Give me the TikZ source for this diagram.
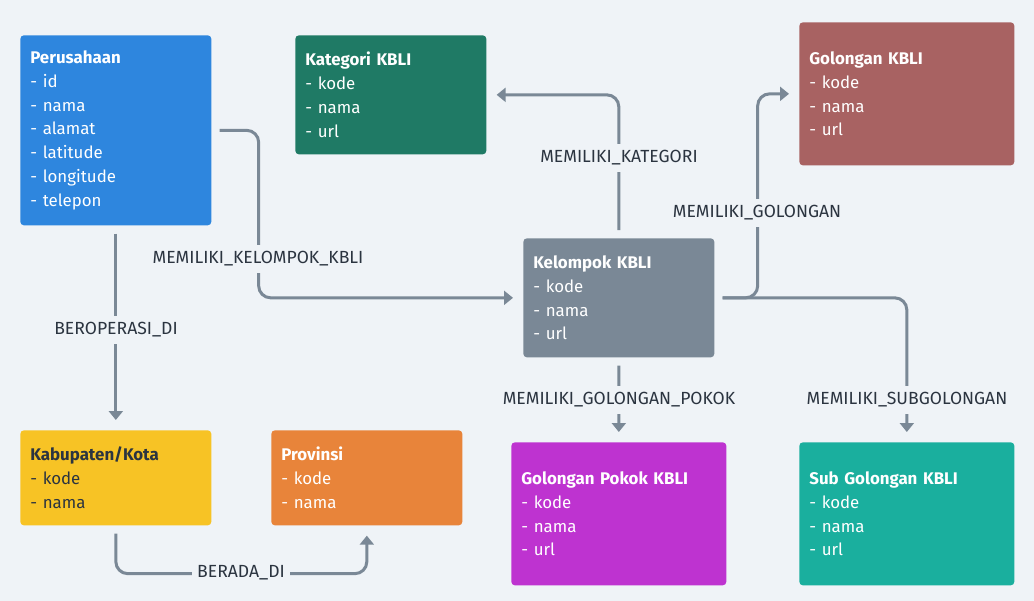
\documentclass[tikz,border=0pt]{standalone}
\usepackage{fontspec}
\setmainfont{Fira Sans}
\usepackage{xcolor}
\usepackage{tikz}
\usetikzlibrary{arrows.meta, positioning, calc}
\definecolor{kbliBg}{HTML}{EFF3F7}
\definecolor{kbliBlue}{HTML}{2E86DE}
\definecolor{kbliGreen}{HTML}{1F7A65}
\definecolor{kbliRose}{HTML}{A86262}
\definecolor{kbliSlate}{HTML}{7A8896}
\definecolor{kbliYellow}{HTML}{F7C325}
\definecolor{kbliOrange}{HTML}{E8843A}
\definecolor{kbliPurple}{HTML}{BE33D0}
\definecolor{kbliTeal}{HTML}{1AAF9E}
\definecolor{kbliInk}{HTML}{2B3440}
\definecolor{kbliLine}{HTML}{7A8896}

\tikzset{
  entity/.style={rectangle, rounded corners=2pt, anchor=north west, align=left,
                 inner xsep=0.2cm, inner ysep=0pt, text=white,
                 font=\fontsize{9.6}{13.6}\selectfont},
  relasi/.style={draw=kbliLine, line width=0.06cm, rounded corners=0.24cm,
                 shorten <=0.16cm, shorten >=0.2cm,
                 -{Triangle[length=0.18cm, width=0.28cm]}},
  relLabel/.style={fill=kbliBg, text=kbliInk, inner xsep=0.1cm, inner ysep=0.14cm,
                   font=\fontsize{10}{12}\selectfont},
}

\begin{document}
\begin{tikzpicture}[x=0.02cm, y=-0.02cm]
% background and page size
\fill[kbliBg] (0,0) rectangle (1034,601);

% entities
\node[entity, fill=kbliBlue, text width=3.42cm, minimum height=3.8cm] (perusahaan) at (20,35) {
    \textbf{Perusahaan}\\ - id\\ - nama\\ - alamat\\ - latitude\\ - longitude\\ - telepon};
\node[entity, fill=kbliGreen, text width=3.42cm, minimum height=2.38cm] (kategori) at (295,35) {
    \textbf{Kategori KBLI}\\ - kode\\ - nama\\ - url};
\node[entity, fill=kbliRose, text width=3.9cm, minimum height=2.86cm] (golongan) at (799,22) {
    \textbf{Golongan KBLI}\\ - kode\\ - nama\\ - url};
\node[entity, fill=kbliSlate, text width=3.42cm, minimum height=2.38cm] (kelompok) at (523,238) {
    \textbf{Kelompok KBLI}\\ - kode\\ - nama\\ - url};
\node[entity, fill=kbliYellow, text=kbliInk, text width=3.42cm, minimum height=1.9cm] (kabupaten) at (20,430) {
    \textbf{Kabupaten/Kota}\\ - kode\\ - nama};
\node[entity, fill=kbliOrange, text width=3.42cm, minimum height=1.9cm] (provinsi) at (271,430) {
    \textbf{Provinsi}\\ - kode\\ - nama};
\node[entity, fill=kbliPurple, text width=3.9cm, minimum height=2.86cm] (gpokok) at (511,442) {
    \textbf{Golongan Pokok KBLI}\\ - kode\\ - nama\\ - url};
\node[entity, fill=kbliTeal, text width=3.9cm, minimum height=2.86cm] (subgolongan) at (799,442) {
    \textbf{Sub Golongan KBLI}\\ - kode\\ - nama\\ - url};

% relations
\draw[relasi] (perusahaan.east) -- ++(47,0) |- (kelompok.west);
\draw[relasi] (perusahaan.south) -- (kabupaten.north);
\draw[relasi] (kelompok.north) |- (kategori.east);
\draw[relasi] (kelompok.east) -- ++(43,0) |- (golongan.west);
\draw[relasi] (kelompok.east) -| (subgolongan.north);
\draw[relasi] (kelompok.south) -- (gpokok.north);
\draw[relasi] (kabupaten.south) -- ++(0,48) -| (provinsi.south);

% relation labels
\node[relLabel] (lblKelompok) at (258,259) {MEMILIKI\_KELOMPOK\_KBLI};
\node[relLabel] (lblOperasi) at (116,330) {BEROPERASI\_DI};
\node[relLabel] (lblKategori) at (619,158) {MEMILIKI\_KATEGORI};
\node[relLabel] (lblGolongan) at (757,213) {MEMILIKI\_GOLONGAN};
\node[relLabel] (lblSub) at (907,400) {MEMILIKI\_SUBGOLONGAN};
\node[relLabel] (lblPokok) at (619,400) {MEMILIKI\_GOLONGAN\_POKOK};
\node[relLabel] (lblBerada) at (241,573) {BERADA\_DI};
\end{tikzpicture}
\end{document}
